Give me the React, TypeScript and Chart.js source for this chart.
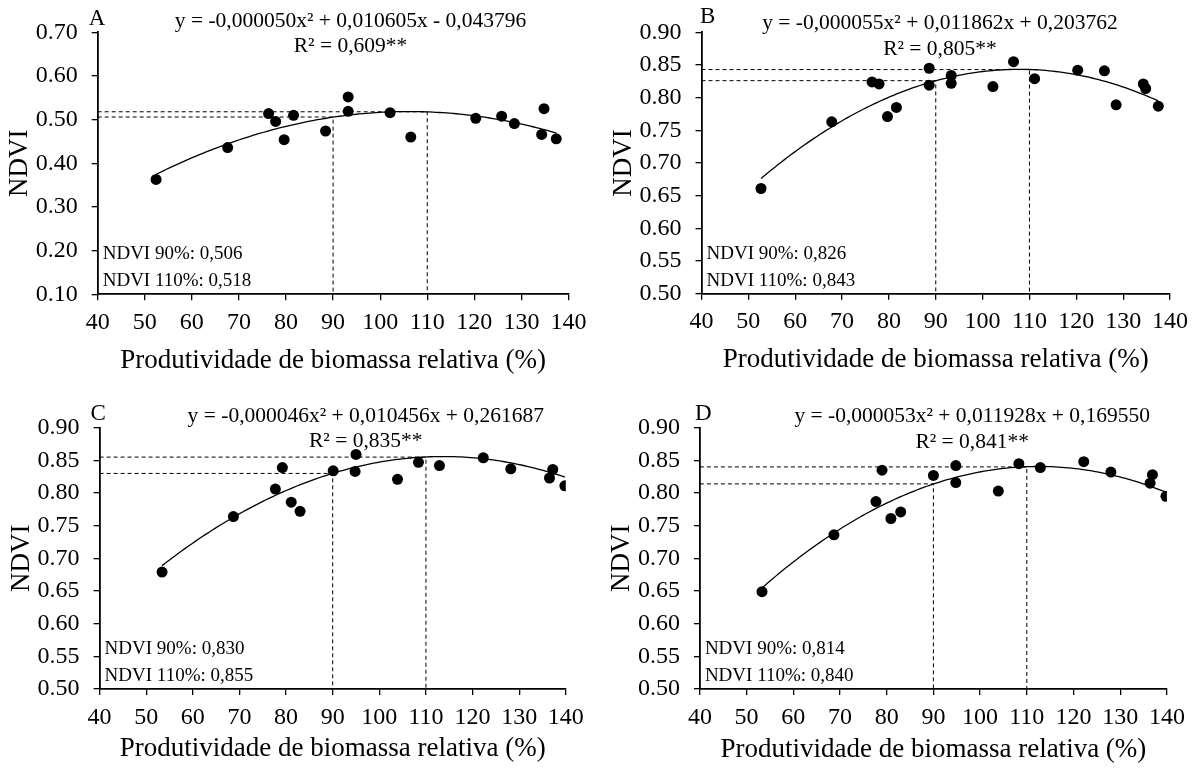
import React, { useEffect, useRef } from "react";
import { Chart, registerables } from "chart.js";

Chart.register(...registerables);

const FONT = '"Liberation Serif", "Times New Roman", serif';

// Shared x axis: relative biomass productivity (%)
const X_MIN = 40;
const X_MAX = 140;
const X_STEP = 10;
const X_TITLE = "Produtividade de biomassa relativa (%)";
const Y_TITLE = "NDVI";
const GUIDE_X = [90, 110];

// Panel A
const A_X = [52.4, 67.6, 76.3, 77.8, 79.6, 81.6, 88.4, 93.2, 93.2, 102.1, 106.5, 120.3, 125.8, 128.5, 134.3, 134.8, 137.4];
const A_Y = [0.363, 0.436, 0.514, 0.496, 0.454, 0.51, 0.474, 0.552, 0.519, 0.516, 0.46, 0.503, 0.508, 0.491, 0.466, 0.525, 0.456];
const A_COEF = [-0.00005, 0.010605, -0.043796];
const A_GUIDE = [0.506, 0.518];
const A_EQ = "y = -0,000050x² + 0,010605x - 0,043796";
const A_R2 = "R² = 0,609**";
const A_NOTES = ["NDVI 90%: 0,506", "NDVI 110%: 0,518"];

// Panel B
const B_X = [52.7, 67.8, 76.4, 77.9, 79.7, 81.6, 88.6, 88.6, 93.3, 93.3, 102.2, 106.6, 111.1, 120.3, 126.0, 128.5, 134.3, 134.8, 137.5];
const B_Y = [0.661, 0.763, 0.824, 0.821, 0.771, 0.785, 0.845, 0.819, 0.834, 0.822, 0.817, 0.855, 0.829, 0.842, 0.841, 0.789, 0.821, 0.814, 0.787];
const B_COEF = [-0.000055, 0.011862, 0.203762];
const B_GUIDE = [0.826, 0.843];
const B_EQ = "y = -0,000055x² + 0,011862x + 0,203762";
const B_R2 = "R² = 0,805**";
const B_NOTES = ["NDVI 90%: 0,826", "NDVI 110%: 0,843"];

// Panel C
const C_X = [53.4, 68.7, 77.7, 79.2, 81.1, 83.0, 90.1, 95.0, 94.8, 103.9, 108.4, 112.9, 122.3, 128.2, 136.5, 137.2, 139.8];
const C_Y = [0.679, 0.764, 0.806, 0.839, 0.786, 0.772, 0.834, 0.859, 0.833, 0.821, 0.847, 0.842, 0.854, 0.837, 0.823, 0.836, 0.811];
const C_COEF = [-0.000046, 0.010456, 0.261687];
const C_GUIDE = [0.83, 0.855];
const C_EQ = "y = -0,000046x² + 0,010456x + 0,261687";
const C_R2 = "R² = 0,835**";
const C_NOTES = ["NDVI 90%: 0,830", "NDVI 110%: 0,855"];

// Panel D
const D_X = [53.3, 68.7, 77.7, 79.0, 80.9, 83.0, 90.0, 94.8, 94.8, 103.9, 108.3, 112.9, 122.2, 128.0, 136.4, 136.9, 139.8];
const D_Y = [0.649, 0.736, 0.787, 0.835, 0.761, 0.771, 0.827, 0.842, 0.816, 0.803, 0.845, 0.839, 0.848, 0.832, 0.815, 0.828, 0.795];
const D_COEF = [-0.000053, 0.011928, 0.16955];
const D_GUIDE = [0.814, 0.84];
const D_EQ = "y = -0,000053x² + 0,011928x + 0,169550";
const D_R2 = "R² = 0,841**";
const D_NOTES = ["NDVI 90%: 0,814", "NDVI 110%: 0,840"];

// Y axis ranges: min, max, step
const Y_RANGE_A = [0.1, 0.7, 0.1];
const Y_RANGE_BCD = [0.5, 0.9, 0.05];

type Box = { left: number; top: number; width: number; height: number };
type Area = { l: number; r: number; t: number; b: number };

interface PanelDef {
  letter: string;
  xs: number[];
  ys: number[];
  coef: number[];
  guide: number[];
  eq: string;
  r2: string;
  notes: string[];
  yRange: number[];
  canvas: Box;
  area: Area;
  letterDx: number;
  letterDy: number;
  eqCenter: number; // x value where the equation is centred
  eqDy: number;
  titleDy: number;
}

const PANELS: PanelDef[] = [
  {
    letter: "A", xs: A_X, ys: A_Y, coef: A_COEF, guide: A_GUIDE, eq: A_EQ, r2: A_R2, notes: A_NOTES,
    yRange: Y_RANGE_A,
    canvas: { left: 0, top: 0, width: 598, height: 385 },
    area: { l: 97.7, r: 568.5, t: 32.3, b: 294.3 },
    letterDx: -9, letterDy: -7.3, eqCenter: 93.7, eqDy: -5.6, titleDy: 74,
  },
  {
    letter: "B", xs: B_X, ys: B_Y, coef: B_COEF, guide: B_GUIDE, eq: B_EQ, r2: B_R2, notes: B_NOTES,
    yRange: Y_RANGE_BCD,
    canvas: { left: 598, top: 0, width: 598, height: 385 },
    area: { l: 701.5, r: 1170, t: 32.3, b: 293.7 },
    letterDx: -1.5, letterDy: -9, eqCenter: 90.9, eqDy: -3, titleDy: 73,
  },
  {
    letter: "C", xs: C_X, ys: C_Y, coef: C_COEF, guide: C_GUIDE, eq: C_EQ, r2: C_R2, notes: C_NOTES,
    yRange: Y_RANGE_BCD,
    canvas: { left: 0, top: 385, width: 598, height: 384 },
    area: { l: 99.6, r: 565.8, t: 427.7, b: 689 },
    letterDx: -9, letterDy: -7.7, eqCenter: 97.1, eqDy: -6, titleDy: 66.7,
  },
  {
    letter: "D", xs: D_X, ys: D_Y, coef: D_COEF, guide: D_GUIDE, eq: D_EQ, r2: D_R2, notes: D_NOTES,
    yRange: Y_RANGE_BCD,
    canvas: { left: 598, top: 385, width: 598, height: 384 },
    area: { l: 699.9, r: 1166.9, t: 427.7, b: 689 },
    letterDx: -5, letterDy: -7.7, eqCenter: 98.3, eqDy: -5.4, titleDy: 67.7,
  },
];

// Fitted quadratic from the printed equation, evaluated across the observed range
function fittedCurve(p: PanelDef) {
  const lo = Math.min(...p.xs);
  const hi = Math.max(...p.xs);
  const pts: { x: number; y: number }[] = [];
  const n = 120;
  for (let i = 0; i <= n; i++) {
    const x = lo + ((hi - lo) * i) / n;
    pts.push({ x, y: p.coef[0] * x * x + p.coef[1] * x + p.coef[2] });
  }
  return pts;
}

function guidePath(yv: number, xv: number, yMin: number) {
  return [
    { x: X_MIN, y: yv },
    { x: xv, y: yv },
    { x: xv, y: yMin },
  ];
}

function makePlugin(p: PanelDef) {
  return {
    id: "panelText" + p.letter,
    afterDraw(chart: any) {
      const ctx: CanvasRenderingContext2D = chart.ctx;
      const ca = chart.chartArea;
      const xs = chart.scales.x;
      ctx.save();
      ctx.fillStyle = "#000";
      ctx.textBaseline = "alphabetic";

      // panel letter
      ctx.font = `23px ${FONT}`;
      ctx.textAlign = "left";
      ctx.fillText(p.letter, ca.left + p.letterDx, ca.top + p.letterDy);

      // regression equation and R²
      ctx.font = `21.5px ${FONT}`;
      ctx.textAlign = "center";
      const cx = xs.getPixelForValue(p.eqCenter);
      ctx.fillText(p.eq, cx, ca.top + p.eqDy);
      ctx.fillText(p.r2, cx, ca.top + p.eqDy + 25.5);

      // NDVI at 90% and 110%
      ctx.font = `19px ${FONT}`;
      ctx.textAlign = "left";
      ctx.fillText(p.notes[0], ca.left + 5, ca.bottom - 35);
      ctx.fillText(p.notes[1], ca.left + 5, ca.bottom - 8);

      // axis titles
      ctx.font = `27px ${FONT}`;
      ctx.textAlign = "center";
      ctx.fillText(X_TITLE, (ca.left + ca.right) / 2, ca.bottom + p.titleDy);

      ctx.save();
      ctx.translate(ca.left - 71, (ca.top + ca.bottom) / 2);
      ctx.rotate(-Math.PI / 2);
      ctx.fillText(Y_TITLE, 0, 0);
      ctx.restore();

      ctx.restore();
    },
  };
}

function Panel({ p }: { p: PanelDef }) {
  const ref = useRef<HTMLCanvasElement>(null);

  useEffect(() => {
    const canvas = ref.current;
    if (!canvas) return;
    const c = p.canvas;
    const a = p.area;
    const yAxisWidth = a.l - c.left;
    const xAxisHeight = c.top + c.height - a.b;
    const [yMin, yMax, yStep] = p.yRange;

    const dashed = {
      showLine: true,
      borderColor: "#000",
      borderWidth: 1,
      borderDash: [4, 3],
      pointRadius: 0,
      fill: false,
    };

    const chart = new Chart(canvas, {
      type: "scatter",
      data: {
        datasets: [
          {
            data: p.xs.map((x, i) => ({ x, y: p.ys[i] })),
            backgroundColor: "#000",
            borderColor: "#000",
            pointRadius: 5.5,
            pointBorderWidth: 0,
          },
          {
            data: fittedCurve(p),
            showLine: true,
            borderColor: "#000",
            borderWidth: 1.3,
            pointRadius: 0,
            fill: false,
          },
          { ...dashed, data: guidePath(p.guide[0], GUIDE_X[0], yMin) },
          { ...dashed, data: guidePath(p.guide[1], GUIDE_X[1], yMin) },
        ],
      },
      options: {
        responsive: false,
        animation: false,
        devicePixelRatio: 1,
        layout: {
          padding: {
            left: 0,
            top: a.t - c.top,
            right: c.left + c.width - a.r,
            bottom: 0,
          },
        },
        plugins: {
          legend: { display: false },
          tooltip: { enabled: false },
        },
        scales: {
          x: {
            type: "linear",
            min: X_MIN,
            max: X_MAX,
            afterFit: (s: any) => {
              s.height = xAxisHeight;
            },
            ticks: {
              stepSize: X_STEP,
              color: "#000",
              padding: 8,
              maxRotation: 0,
              font: { family: FONT, size: 24 },
            },
            grid: {
              drawOnChartArea: false,
              drawTicks: true,
              tickLength: 6,
              color: "#000",
              lineWidth: 1.3,
            },
            border: { display: true, color: "#000", width: 1.8 },
          },
          y: {
            type: "linear",
            min: yMin,
            max: yMax,
            afterFit: (s: any) => {
              s.width = yAxisWidth;
            },
            ticks: {
              stepSize: yStep,
              color: "#000",
              padding: 14,
              font: { family: FONT, size: 24 },
              callback: (v: any) => Number(v).toFixed(2),
            },
            grid: {
              drawOnChartArea: false,
              drawTicks: true,
              tickLength: 6,
              color: "#000",
              lineWidth: 1.3,
            },
            border: { display: true, color: "#000", width: 1.8 },
          },
        },
      },
      plugins: [makePlugin(p)],
    } as any);

    return () => chart.destroy();
  }, [p]);

  return (
    <canvas
      ref={ref}
      width={p.canvas.width}
      height={p.canvas.height}
      style={{
        position: "absolute",
        left: p.canvas.left,
        top: p.canvas.top,
        width: p.canvas.width + "px",
        height: p.canvas.height + "px",
      }}
    />
  );
}

export default function App() {
  return (
    <div
      style={{
        position: "absolute",
        left: 0,
        top: 0,
        width: 1196,
        height: 769,
        background: "#fff",
      }}
    >
      {PANELS.map((p) => (
        <Panel key={p.letter} p={p} />
      ))}
    </div>
  );
}
